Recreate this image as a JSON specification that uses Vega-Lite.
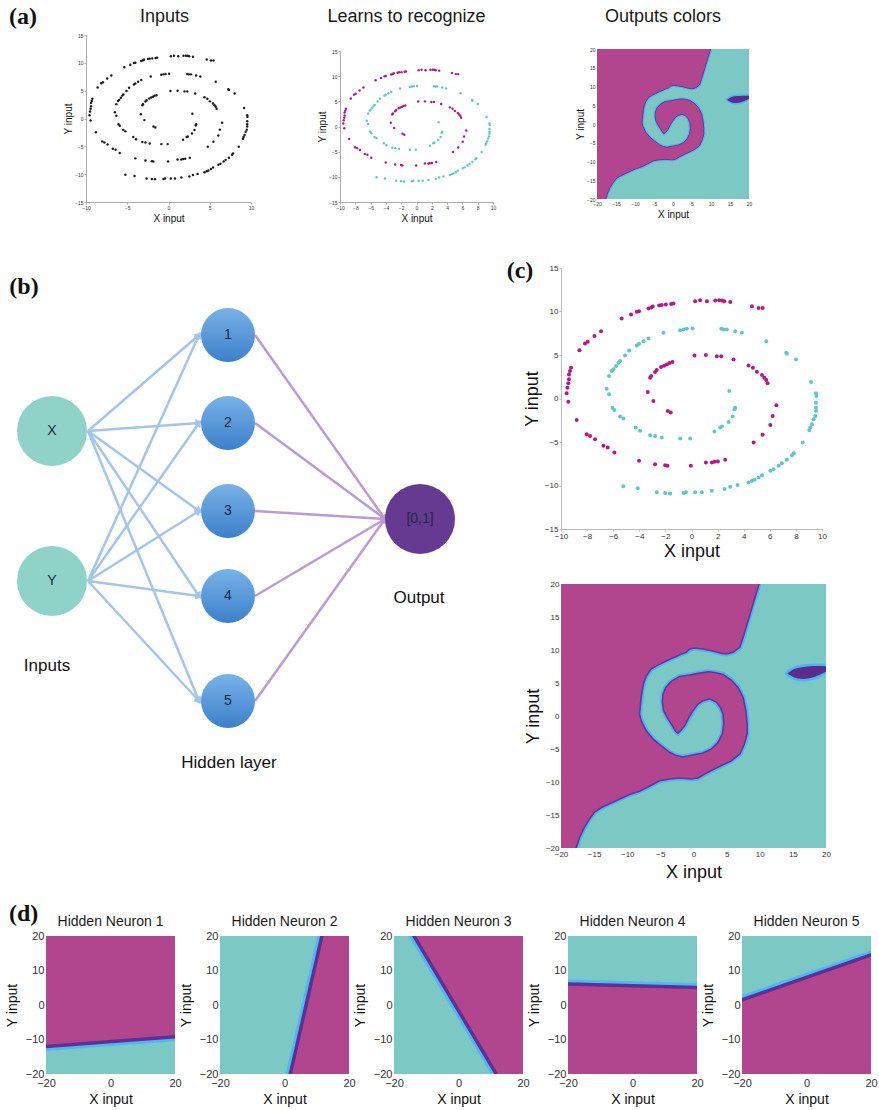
{
"$schema": "https://vega.github.io/schema/vega-lite/v6.json",
"padding": {"left": 5, "top": 5, "right": 4, "bottom": 2},
"config": {
  "view": {"stroke": null},
  "font": "Liberation Sans",
  "axis": {"grid": false, "labelFlush": false, "labelOverlap": false, "titleFontWeight": "normal", "labelColor": "#333", "titleColor": "#111", "labelFont": "Liberation Sans", "titleFont": "Liberation Sans"},
  "title": {"font": "Liberation Sans", "fontWeight": "normal", "color": "#1a1a1a"}
},
"datasets": {
  "spiral": [
    {"x":-5.35,"y":9.19,"c":"m"},{"x":-4.63,"y":9.65,"c":"m"},{"x":-4.19,"y":9.96,"c":"m"},{"x":-4.02,"y":10.03,"c":"m"},{"x":-3.30,"y":10.34,"c":"m"},{"x":-3.09,"y":10.45,"c":"m"},{"x":-2.97,"y":10.57,"c":"m"},{"x":-2.48,"y":10.68,"c":"m"},{"x":-2.28,"y":10.76,"c":"m"},{"x":-1.97,"y":10.80,"c":"m"},{"x":-1.56,"y":10.87,"c":"m"},{"x":-1.38,"y":10.91,"c":"m"},{"x":0.28,"y":11.18,"c":"m"},{"x":0.66,"y":11.29,"c":"m"},{"x":1.18,"y":11.18,"c":"m"},{"x":1.82,"y":11.26,"c":"m"},{"x":2.12,"y":11.29,"c":"m"},{"x":2.33,"y":11.26,"c":"m"},{"x":2.51,"y":11.18,"c":"m"},{"x":2.97,"y":11.10,"c":"m"},{"x":4.63,"y":10.61,"c":"m"},{"x":5.14,"y":10.41,"c":"m"},{"x":5.45,"y":10.41,"c":"m"},
    {"x":-6.93,"y":7.74,"c":"m"},{"x":-7.44,"y":7.17,"c":"m"},{"x":-7.95,"y":6.52,"c":"m"},{"x":-8.16,"y":6.33,"c":"m"},{"x":-8.59,"y":5.56,"c":"m"},{"x":-9.23,"y":3.54,"c":"m"},{"x":-9.31,"y":3.15,"c":"m"},{"x":-9.39,"y":2.77,"c":"m"},{"x":-9.39,"y":2.20,"c":"m"},{"x":-9.44,"y":1.74,"c":"m"},{"x":-9.51,"y":1.24,"c":"m"},{"x":-9.57,"y":0.59,"c":"m"},{"x":-9.44,"y":-0.36,"c":"m"},{"x":-8.80,"y":-2.46,"c":"m"},{"x":-8.03,"y":-4.11,"c":"m"},{"x":-7.77,"y":-4.30,"c":"m"},{"x":-7.39,"y":-4.68,"c":"m"},{"x":-6.75,"y":-5.44,"c":"m"},{"x":-6.42,"y":-5.63,"c":"m"},{"x":-5.91,"y":-6.21,"c":"m"},
    {"x":-4.02,"y":-7.16,"c":"m"},{"x":-2.79,"y":-7.55,"c":"m"},{"x":-2.02,"y":-7.66,"c":"m"},{"x":-1.84,"y":-7.74,"c":"m"},{"x":-0.05,"y":-7.74,"c":"m"},{"x":1.10,"y":-7.35,"c":"m"},{"x":1.56,"y":-7.35,"c":"m"},{"x":1.76,"y":-7.28,"c":"m"},{"x":2.02,"y":-7.24,"c":"m"},{"x":2.58,"y":-7.05,"c":"m"},
    {"x":4.76,"y":-5.06,"c":"m"},{"x":5.45,"y":-4.18,"c":"m"},{"x":6.04,"y":-3.04,"c":"m"},{"x":6.22,"y":-2.00,"c":"m"},{"x":6.50,"y":-0.78,"c":"m"},{"x":5.83,"y":1.74,"c":"m"},{"x":5.73,"y":2.12,"c":"m"},{"x":5.58,"y":2.39,"c":"m"},{"x":5.40,"y":2.70,"c":"m"},{"x":5.01,"y":3.08,"c":"m"},{"x":4.71,"y":3.54,"c":"m"},{"x":4.37,"y":3.80,"c":"m"},{"x":3.22,"y":4.49,"c":"m"},{"x":2.28,"y":4.87,"c":"m"},{"x":1.94,"y":4.87,"c":"m"},{"x":1.10,"y":4.99,"c":"m"},{"x":0.23,"y":4.95,"c":"m"},
    {"x":-1.46,"y":4.19,"c":"m"},{"x":-1.69,"y":4.07,"c":"m"},{"x":-1.89,"y":3.92,"c":"m"},{"x":-2.10,"y":3.77,"c":"m"},{"x":-2.33,"y":3.61,"c":"m"},{"x":-2.66,"y":3.27,"c":"m"},{"x":-2.79,"y":3.04,"c":"m"},{"x":-3.09,"y":2.58,"c":"m"},{"x":-3.17,"y":2.39,"c":"m"},{"x":-3.35,"y":0.75,"c":"m"},{"x":-2.92,"y":-0.29,"c":"m"},{"x":-1.82,"y":-1.43,"c":"m"},{"x":-1.59,"y":-1.62,"c":"m"},
    {"x":2.89,"y":0.86,"c":"c"},{"x":3.35,"y":-1.05,"c":"c"},{"x":3.30,"y":-1.24,"c":"c"},{"x":3.15,"y":-2.08,"c":"c"},{"x":2.84,"y":-2.69,"c":"c"},{"x":2.33,"y":-3.23,"c":"c"},{"x":2.20,"y":-3.34,"c":"c"},{"x":1.76,"y":-3.80,"c":"c"},{"x":-0.10,"y":-4.60,"c":"c"},{"x":-0.87,"y":-4.60,"c":"c"},{"x":-2.28,"y":-4.49,"c":"c"},{"x":-2.79,"y":-4.30,"c":"c"},{"x":-3.17,"y":-4.22,"c":"c"},{"x":-3.94,"y":-3.72,"c":"c"},{"x":-4.27,"y":-3.34,"c":"c"},{"x":-5.22,"y":-2.31,"c":"c"},{"x":-5.47,"y":-2.08,"c":"c"},{"x":-5.91,"y":-1.32,"c":"c"},{"x":-6.06,"y":-1.05,"c":"c"},{"x":-6.32,"y":0.48,"c":"c"},{"x":-6.50,"y":1.13,"c":"c"},{"x":-6.32,"y":2.58,"c":"c"},{"x":-6.11,"y":3.15,"c":"c"},{"x":-5.98,"y":3.35,"c":"c"},{"x":-5.78,"y":3.73,"c":"c"},{"x":-5.60,"y":4.11,"c":"c"},{"x":-5.47,"y":4.30,"c":"c"},{"x":-5.09,"y":4.95,"c":"c"},{"x":-4.78,"y":5.52,"c":"c"},{"x":-4.19,"y":6.10,"c":"c"},{"x":-4.02,"y":6.29,"c":"c"},{"x":-3.68,"y":6.59,"c":"c"},{"x":-3.30,"y":6.90,"c":"c"},{"x":-2.15,"y":7.55,"c":"c"},{"x":-0.87,"y":7.85,"c":"c"},{"x":-0.61,"y":7.93,"c":"c"},{"x":-0.36,"y":8.01,"c":"c"},{"x":0.08,"y":8.05,"c":"c"},{"x":2.28,"y":8.01,"c":"c"},{"x":2.46,"y":7.93,"c":"c"},{"x":2.71,"y":7.93,"c":"c"},{"x":3.35,"y":7.74,"c":"c"},{"x":3.86,"y":7.55,"c":"c"},{"x":5.73,"y":6.59,"c":"c"},{"x":7.26,"y":5.26,"c":"c"},{"x":7.31,"y":5.14,"c":"c"},{"x":8.01,"y":4.49,"c":"c"},{"x":9.16,"y":1.89,"c":"c"},{"x":9.54,"y":0.59,"c":"c"},{"x":9.57,"y":0.29,"c":"c"},{"x":9.54,"y":-0.48,"c":"c"},{"x":9.54,"y":-1.05,"c":"c"},{"x":9.54,"y":-1.43,"c":"c"},{"x":9.49,"y":-2.00,"c":"c"},{"x":9.36,"y":-2.39,"c":"c"},{"x":9.23,"y":-2.96,"c":"c"},{"x":9.10,"y":-3.34,"c":"c"},{"x":9.03,"y":-3.65,"c":"c"},{"x":8.52,"y":-5.06,"c":"c"},{"x":7.83,"y":-6.28,"c":"c"},{"x":7.70,"y":-6.51,"c":"c"},{"x":7.31,"y":-7.05,"c":"c"},{"x":6.93,"y":-7.43,"c":"c"},{"x":6.68,"y":-7.74,"c":"c"},{"x":6.29,"y":-8.12,"c":"c"},{"x":6.04,"y":-8.31,"c":"c"},{"x":5.40,"y":-8.81,"c":"c"},{"x":5.14,"y":-9.07,"c":"c"},{"x":4.83,"y":-9.34,"c":"c"},{"x":4.63,"y":-9.46,"c":"c"},{"x":4.37,"y":-9.65,"c":"c"},{"x":3.53,"y":-9.95,"c":"c"},{"x":2.97,"y":-10.14,"c":"c"},{"x":2.53,"y":-10.41,"c":"c"},{"x":1.56,"y":-10.60,"c":"c"},{"x":0.79,"y":-10.79,"c":"c"},{"x":0.28,"y":-10.79,"c":"c"},{"x":-0.43,"y":-10.79,"c":"c"},{"x":-0.61,"y":-10.87,"c":"c"},{"x":-1.64,"y":-10.91,"c":"c"},{"x":-2.02,"y":-10.87,"c":"c"},{"x":-2.66,"y":-10.79,"c":"c"},{"x":-4.12,"y":-10.33,"c":"c"},{"x":-5.22,"y":-10.10,"c":"c"}
  ],
  "bg": [{"x": -20, "x2": 20, "y": -20, "y2": 20}],
  "region": [
    {"p":"main","i":0,"x":-22,"y":22},{"p":"main","i":1,"x":10.5,"y":22},{"p":"main","i":2,"x":9.9,"y":20},{"p":"main","i":3,"x":8.7,"y":16},{"p":"main","i":4,"x":7.48,"y":11.9},{"p":"main","i":5,"x":6.98,"y":10.4},{"p":"main","i":6,"x":5.97,"y":9.65},{"p":"main","i":7,"x":4.96,"y":9.4},{"p":"main","i":8,"x":4.2,"y":9.5},{"p":"main","i":9,"x":2.7,"y":9.9},{"p":"main","i":10,"x":1.43,"y":10.15},{"p":"main","i":11,"x":0.17,"y":10.3},{"p":"main","i":12,"x":-0.58,"y":10.15},{"p":"main","i":13,"x":-1.1,"y":9.65},{"p":"main","i":14,"x":-1.85,"y":9.4},{"p":"main","i":15,"x":-2.6,"y":9.0},{"p":"main","i":16,"x":-3.6,"y":8.6},{"p":"main","i":17,"x":-4.6,"y":8.1},{"p":"main","i":18,"x":-5.6,"y":7.6},{"p":"main","i":19,"x":-6.4,"y":7.1},{"p":"main","i":20,"x":-7.1,"y":6.1},{"p":"main","i":21,"x":-7.5,"y":5.1},{"p":"main","i":22,"x":-7.75,"y":3.85},{"p":"main","i":23,"x":-7.9,"y":2.8},{"p":"main","i":24,"x":-8.05,"y":1.3},{"p":"main","i":25,"x":-8.15,"y":0.3},{"p":"main","i":26,"x":-7.9,"y":-0.7},{"p":"main","i":27,"x":-7.15,"y":-2.2},{"p":"main","i":28,"x":-6.1,"y":-3.5},{"p":"main","i":29,"x":-4.9,"y":-4.5},{"p":"main","i":30,"x":-3.6,"y":-5.5},{"p":"main","i":31,"x":-2.6,"y":-6.0},{"p":"main","i":32,"x":-1.6,"y":-6.2},{"p":"main","i":33,"x":-0.1,"y":-5.9},{"p":"main","i":34,"x":1.43,"y":-5.6},{"p":"main","i":35,"x":2.7,"y":-5.0},{"p":"main","i":36,"x":3.7,"y":-4.0},{"p":"main","i":37,"x":4.36,"y":-2.7},{"p":"main","i":38,"x":4.56,"y":-1.2},{"p":"main","i":39,"x":4.46,"y":0.3},{"p":"main","i":40,"x":4.05,"y":1.3},{"p":"main","i":41,"x":3.45,"y":2.1},{"p":"main","i":42,"x":2.44,"y":2.6},{"p":"main","i":43,"x":1.43,"y":2.3},{"p":"main","i":44,"x":0.67,"y":1.8},{"p":"main","i":45,"x":-0.08,"y":0.8},{"p":"main","i":46,"x":-0.69,"y":-0.2},{"p":"main","i":47,"x":-1.34,"y":-1.5},{"p":"main","i":48,"x":-2.0,"y":-2.3},{"p":"main","i":49,"x":-2.35,"y":-2.6},{"p":"main","i":50,"x":-2.7,"y":-2.3},{"p":"main","i":51,"x":-3.36,"y":-1.2},{"p":"main","i":52,"x":-4.0,"y":-0.2},{"p":"main","i":53,"x":-4.5,"y":0.8},{"p":"main","i":54,"x":-4.7,"y":2.1},{"p":"main","i":55,"x":-4.6,"y":3.3},{"p":"main","i":56,"x":-4.2,"y":4.3},{"p":"main","i":57,"x":-3.36,"y":5.25},{"p":"main","i":58,"x":-2.1,"y":6.0},{"p":"main","i":59,"x":-0.58,"y":6.2},{"p":"main","i":60,"x":0.93,"y":6.5},{"p":"main","i":61,"x":2.2,"y":6.7},{"p":"main","i":62,"x":3.2,"y":6.6},{"p":"main","i":63,"x":4.46,"y":6.3},{"p":"main","i":64,"x":5.7,"y":5.45},{"p":"main","i":65,"x":6.7,"y":4.35},{"p":"main","i":66,"x":7.5,"y":2.8},{"p":"main","i":67,"x":7.9,"y":0.8},{"p":"main","i":68,"x":8.1,"y":-1.2},{"p":"main","i":69,"x":8.1,"y":-2.7},{"p":"main","i":70,"x":7.7,"y":-4.2},{"p":"main","i":71,"x":7.0,"y":-5.75},{"p":"main","i":72,"x":5.7,"y":-6.8},{"p":"main","i":73,"x":4.46,"y":-7.4},{"p":"main","i":74,"x":3.2,"y":-8.0},{"p":"main","i":75,"x":1.7,"y":-8.8},{"p":"main","i":76,"x":0.67,"y":-9.4},{"p":"main","i":77,"x":-0.33,"y":-9.55},{"p":"main","i":78,"x":-2.1,"y":-9.4},{"p":"main","i":79,"x":-3.6,"y":-9.55},{"p":"main","i":80,"x":-5.1,"y":-9.8},{"p":"main","i":81,"x":-6.6,"y":-10.6},{"p":"main","i":82,"x":-8.15,"y":-11.4},{"p":"main","i":83,"x":-9.66,"y":-11.9},{"p":"main","i":84,"x":-11.2,"y":-12.6},{"p":"main","i":85,"x":-12.7,"y":-13.3},{"p":"main","i":86,"x":-13.95,"y":-13.9},{"p":"main","i":87,"x":-14.96,"y":-14.6},{"p":"main","i":88,"x":-15.7,"y":-15.6},{"p":"main","i":89,"x":-16.5,"y":-16.9},{"p":"main","i":90,"x":-17.2,"y":-18.4},{"p":"main","i":91,"x":-17.7,"y":-20},{"p":"main","i":92,"x":-18.0,"y":-22},{"p":"main","i":93,"x":-22,"y":-22},
    {"p":"blob","i":0,"x":14.0,"y":6.45},{"p":"blob","i":1,"x":14.7,"y":7.05},{"p":"blob","i":2,"x":15.6,"y":7.45},{"p":"blob","i":3,"x":16.8,"y":7.65},{"p":"blob","i":4,"x":18.2,"y":7.75},{"p":"blob","i":5,"x":19.5,"y":7.75},{"p":"blob","i":6,"x":20.6,"y":7.6},{"p":"blob","i":7,"x":20.6,"y":6.9},{"p":"blob","i":8,"x":19.6,"y":6.3},{"p":"blob","i":9,"x":18.4,"y":5.75},{"p":"blob","i":10,"x":17.1,"y":5.45},{"p":"blob","i":11,"x":15.7,"y":5.5},{"p":"blob","i":12,"x":14.7,"y":5.9}
  ],
  "neuron": [
    {"n":1,"i":0,"x":-22,"y":-12.14},{"n":1,"i":1,"x":22,"y":-9.06},{"n":1,"i":2,"x":22,"y":22},{"n":1,"i":3,"x":-22,"y":22},
    {"n":2,"i":0,"x":1.31,"y":-22},{"n":2,"i":1,"x":12.09,"y":22},{"n":2,"i":2,"x":22,"y":22},{"n":2,"i":3,"x":22,"y":-22},
    {"n":3,"i":0,"x":-15.08,"y":22},{"n":3,"i":1,"x":12.98,"y":-22},{"n":3,"i":2,"x":22,"y":-22},{"n":3,"i":3,"x":22,"y":22},
    {"n":4,"i":0,"x":-22,"y":6.15},{"n":4,"i":1,"x":22,"y":5.05},{"n":4,"i":2,"x":22,"y":-22},{"n":4,"i":3,"x":-22,"y":-22},
    {"n":5,"i":0,"x":-22,"y":0.85},{"n":5,"i":1,"x":22,"y":15.15},{"n":5,"i":2,"x":22,"y":-22},{"n":5,"i":3,"x":-22,"y":-22}
  ],
  "nodes": [
    {"id":"X","t":"in","x":43,"y":163},{"id":"Y","t":"in","x":43,"y":313},
    {"id":"1","t":"h","x":219,"y":67},{"id":"2","t":"h","x":219,"y":155},{"id":"3","t":"h","x":219,"y":243},{"id":"4","t":"h","x":219,"y":328},{"id":"5","t":"h","x":219,"y":433},
    {"id":"[0,1]","t":"o","x":411,"y":251}
  ],
  "edges": [
    {"k":"in","x":79,"y":163,"x2":190,"y2":67,"a":-40.86},{"k":"in","x":79,"y":163,"x2":190,"y2":155,"a":-4.12},{"k":"in","x":79,"y":163,"x2":190,"y2":243,"a":35.78},{"k":"in","x":79,"y":163,"x2":190,"y2":328,"a":56.07},{"k":"in","x":79,"y":163,"x2":190,"y2":433,"a":67.65},
    {"k":"in","x":79,"y":313,"x2":190,"y2":67,"a":-65.71},{"k":"in","x":79,"y":313,"x2":190,"y2":155,"a":-54.91},{"k":"in","x":79,"y":313,"x2":190,"y2":243,"a":-32.24},{"k":"in","x":79,"y":313,"x2":190,"y2":328,"a":7.70},{"k":"in","x":79,"y":313,"x2":190,"y2":433,"a":47.23},
    {"k":"out","x":246,"y":67,"x2":376,"y2":251,"a":54.76},{"k":"out","x":246,"y":155,"x2":376,"y2":251,"a":36.44},{"k":"out","x":246,"y":243,"x2":376,"y2":251,"a":3.52},{"k":"out","x":246,"y":328,"x2":376,"y2":251,"a":-30.64},{"k":"out","x":246,"y":433,"x2":376,"y2":251,"a":-54.46}
  ],
  "blabels": [
    {"t":"Inputs","x":38,"y":398},{"t":"Hidden layer","x":220,"y":495},{"t":"Output","x":410,"y":330}
  ]
},
"vconcat": [
  {
    "hconcat": [
      {"width": 1, "height": 1, "data": {"values": []}, "mark": "point",
       "title": {"text": "(a)", "anchor": "start", "frame": "group", "font": "Liberation Serif", "fontSize": 24, "fontWeight": "bold", "color": "#111", "offset": 6}},
      {
        "hconcat": [
          {
            "width": 165, "height": 167,
            "title": {"text": "Inputs", "fontSize": 18, "frame": "group", "offset": 7, "dx": -4},
            "data": {"name": "spiral"},
            "mark": {"type": "circle", "size": 6, "color": "#1e1e1e", "opacity": 1},
            "encoding": {
              "x": {"field": "x", "type": "quantitative", "scale": {"domain": [-10, 10]}, "axis": {"title": "X input", "values": [-10, -5, 0, 5, 10], "format": "d", "tickCount": 30, "labelOverlap": false, "labelFontSize": 5, "titleFontSize": 10, "domainColor": "#aaa", "tickColor": "#aaa", "tickSize": 2, "labelPadding": 1, "titlePadding": 3}},
              "y": {"field": "y", "type": "quantitative", "scale": {"domain": [-15, 15]}, "axis": {"title": "Y input", "values": [-15, -10, -5, 0, 5, 10, 15], "format": "d", "tickCount": 30, "labelOverlap": false, "labelFontSize": 5, "titleFontSize": 10, "domainColor": "#aaa", "tickColor": "#aaa", "tickSize": 2, "labelPadding": 1, "titlePadding": 1}}
            }
          },
          {
            "hconcat": [
              {
                "vconcat": [
                  {"width": 153, "height": 1, "data": {"values": []}, "mark": "point",
                   "title": {"text": "Learns to recognize", "fontSize": 18, "frame": "group", "offset": 9.5, "dx": -10}},
                  {
                    "width": 153, "height": 151,
                    "data": {"name": "spiral"},
                    "mark": {"type": "circle", "size": 6, "opacity": 1},
                    "encoding": {
                      "x": {"field": "x", "type": "quantitative", "scale": {"domain": [-10, 10]}, "axis": {"title": "X input", "values": [-10, -8, -6, -4, -2, 0, 2, 4, 6, 8, 10], "format": "d", "tickCount": 30, "labelOverlap": false, "labelFontSize": 5, "titleFontSize": 10, "domainColor": "#aaa", "tickColor": "#aaa", "tickSize": 2, "labelPadding": 1, "titlePadding": 3}},
                      "y": {"field": "y", "type": "quantitative", "scale": {"domain": [-15, 15]}, "axis": {"title": "Y input", "values": [-15, -10, -5, 0, 5, 10, 15], "format": "d", "tickCount": 30, "labelOverlap": false, "labelFontSize": 5, "titleFontSize": 10, "domainColor": "#aaa", "tickColor": "#aaa", "tickSize": 2, "labelPadding": 1, "titlePadding": 1}},
                      "color": {"field": "c", "type": "nominal", "scale": {"domain": ["m", "c"], "range": ["#b3198a", "#5fc6c9"]}, "legend": null}
                    }
                  }
                ],
                "spacing": 15,
                "bounds": "flush"
              },
              {
                "vconcat": [
                  {"width": 152, "height": 1, "data": {"values": []}, "mark": "point",
                   "title": {"text": "Outputs colors", "fontSize": 18, "frame": "group", "offset": 9.5, "dx": -10}},
                  {
                    "width": 152, "height": 150,
                    "layer": [
                      {"data": {"name": "bg"}, "mark": {"type": "rect", "color": "#7bc8c4"},
                       "encoding": {
                         "x": {"field": "x", "type": "quantitative", "scale": {"domain": [-20, 20]}, "axis": {"title": "X input", "values": [-20, -15, -10, -5, 0, 5, 10, 15, 20], "format": "d", "tickCount": 30, "labelOverlap": false, "labelFontSize": 5, "titleFontSize": 10, "domain": false, "ticks": false, "labelPadding": 2, "titlePadding": 3}},
                         "x2": {"field": "x2"},
                         "y": {"field": "y", "type": "quantitative", "scale": {"domain": [-20, 20]}, "axis": {"title": "Y input", "values": [-20, -15, -10, -5, 0, 5, 10, 15, 20], "format": "d", "tickCount": 30, "labelOverlap": false, "labelFontSize": 5, "titleFontSize": 10, "domain": false, "ticks": false, "labelPadding": 2, "titlePadding": 1}},
                         "y2": {"field": "y2"}
                       }},
                      {"data": {"name": "region"}, "transform": [{"filter": "datum.p == 'main'"}], "mark": {"type": "line", "stroke": "#4db6f0", "strokeWidth": 3, "clip": true},
                       "encoding": {"x": {"field": "x", "type": "quantitative", "scale": {"domain": [-20, 20]}}, "y": {"field": "y", "type": "quantitative", "scale": {"domain": [-20, 20]}}, "order": {"field": "i"}}},
                      {"data": {"name": "region"}, "transform": [{"filter": "datum.p == 'main'"}], "mark": {"type": "line", "fill": "#b1468f", "stroke": "#67349b", "strokeWidth": 1, "clip": true},
                       "encoding": {"x": {"field": "x", "type": "quantitative", "scale": {"domain": [-20, 20]}}, "y": {"field": "y", "type": "quantitative", "scale": {"domain": [-20, 20]}}, "order": {"field": "i"}}},
                      {"data": {"name": "region"}, "transform": [{"filter": "datum.p == 'blob'"}], "mark": {"type": "line", "fill": "#5b2c8c", "stroke": "#4db6f0", "strokeWidth": 1.5, "clip": true, "interpolate": "cardinal-closed"},
                       "encoding": {"x": {"field": "x", "type": "quantitative", "scale": {"domain": [-20, 20]}}, "y": {"field": "y", "type": "quantitative", "scale": {"domain": [-20, 20]}}, "order": {"field": "i"}}}
                    ]
                  }
                ],
                "spacing": 13,
                "bounds": "flush"
              }
            ],
            "spacing": 79
          }
        ],
        "spacing": 63
      }
    ],
    "spacing": 76,
    "bounds": "flush"
  },
  {
    "vconcat": [
      {
        "hconcat": [
          {
            "width": 480, "height": 515,
            "layer": [
              {"data": {"name": "edges"}, "transform": [{"filter": "datum.k == 'in'"}], "mark": {"type": "rule", "strokeWidth": 2.5, "color": "#a4c5e9"},
               "encoding": {
                 "x": {"field": "x", "type": "quantitative", "scale": {"domain": [0, 480]}, "axis": null},
                 "y": {"field": "y", "type": "quantitative", "scale": {"domain": [0, 515], "reverse": true}, "axis": null},
                 "x2": {"field": "x2"}, "y2": {"field": "y2"}
               }},
              {"data": {"name": "edges"}, "transform": [{"filter": "datum.k == 'out'"}], "mark": {"type": "rule", "strokeWidth": 2.5, "color": "#b99bd5"},
               "encoding": {
                 "x": {"field": "x", "type": "quantitative", "scale": {"domain": [0, 480]}, "axis": null},
                 "y": {"field": "y", "type": "quantitative", "scale": {"domain": [0, 515], "reverse": true}, "axis": null},
                 "x2": {"field": "x2"}, "y2": {"field": "y2"}
               }},
              {"data": {"name": "edges"}, "transform": [{"filter": "datum.k == 'in'"}], "mark": {"type": "point", "shape": "triangle-right", "filled": true, "size": 70, "opacity": 1, "color": "#a4c5e9"},
               "encoding": {
                 "x": {"field": "x2", "type": "quantitative", "scale": {"domain": [0, 480]}, "axis": null},
                 "y": {"field": "y2", "type": "quantitative", "scale": {"domain": [0, 515], "reverse": true}, "axis": null},
                 "angle": {"field": "a", "type": "quantitative", "scale": null}
               }},
              {"data": {"name": "edges"}, "transform": [{"filter": "datum.k == 'out'"}], "mark": {"type": "point", "shape": "triangle-right", "filled": true, "size": 70, "opacity": 1, "color": "#b99bd5"},
               "encoding": {
                 "x": {"field": "x2", "type": "quantitative", "scale": {"domain": [0, 480]}, "axis": null},
                 "y": {"field": "y2", "type": "quantitative", "scale": {"domain": [0, 515], "reverse": true}, "axis": null},
                 "angle": {"field": "a", "type": "quantitative", "scale": null}
               }},
              {"data": {"name": "nodes"}, "transform": [{"filter": "datum.t == 'in'"}], "mark": {"type": "point", "shape": "circle", "filled": true, "size": 4900, "fill": "#8fd3c8", "opacity": 1},
               "encoding": {"x": {"field": "x", "type": "quantitative", "scale": {"domain": [0, 480]}, "axis": null}, "y": {"field": "y", "type": "quantitative", "scale": {"domain": [0, 515], "reverse": true}, "axis": null}}},
              {"data": {"name": "nodes"}, "transform": [{"filter": "datum.t == 'h'"}], "mark": {"type": "point", "shape": "circle", "filled": true, "size": 2916, "opacity": 1, "fill": {"gradient": "linear", "x1": 0, "y1": 0, "x2": 0, "y2": 1, "stops": [{"offset": 0, "color": "#78b3e8"}, {"offset": 1, "color": "#3d7fca"}]}},
               "encoding": {"x": {"field": "x", "type": "quantitative", "scale": {"domain": [0, 480]}, "axis": null}, "y": {"field": "y", "type": "quantitative", "scale": {"domain": [0, 515], "reverse": true}, "axis": null}}},
              {"data": {"name": "nodes"}, "transform": [{"filter": "datum.t == 'o'"}], "mark": {"type": "point", "shape": "circle", "filled": true, "size": 4900, "fill": "#663a90", "opacity": 1},
               "encoding": {"x": {"field": "x", "type": "quantitative", "scale": {"domain": [0, 480]}, "axis": null}, "y": {"field": "y", "type": "quantitative", "scale": {"domain": [0, 515], "reverse": true}, "axis": null}}},
              {"data": {"name": "nodes"}, "mark": {"type": "text", "fontSize": 14, "color": "#1c2a42", "font": "Liberation Sans"},
               "encoding": {"x": {"field": "x", "type": "quantitative", "scale": {"domain": [0, 480]}, "axis": null}, "y": {"field": "y", "type": "quantitative", "scale": {"domain": [0, 515], "reverse": true}, "axis": null}, "text": {"field": "id"}}},
              {"data": {"name": "blabels"}, "mark": {"type": "text", "fontSize": 17, "color": "#111", "font": "Liberation Sans"},
               "encoding": {"x": {"field": "x", "type": "quantitative", "scale": {"domain": [0, 480]}, "axis": null}, "y": {"field": "y", "type": "quantitative", "scale": {"domain": [0, 515], "reverse": true}, "axis": null}, "text": {"field": "t"}}},
              {"data": {"values": [{"t": "(b)", "x": 15, "y": 19}]}, "mark": {"type": "text", "font": "Liberation Serif", "fontSize": 24, "fontWeight": "bold", "color": "#111"},
               "encoding": {"x": {"field": "x", "type": "quantitative", "scale": {"domain": [0, 480]}, "axis": null}, "y": {"field": "y", "type": "quantitative", "scale": {"domain": [0, 515], "reverse": true}, "axis": null}, "text": {"field": "t"}}}
            ]
          },
          {
            "vconcat": [
              {
                "width": 261, "height": 261,
                "layer": [
                  {"data": {"name": "spiral"}, "mark": {"type": "circle", "size": 16, "opacity": 1},
                   "encoding": {
                     "x": {"field": "x", "type": "quantitative", "scale": {"domain": [-10, 10]}, "axis": {"title": "X input", "values": [-10, -8, -6, -4, -2, 0, 2, 4, 6, 8, 10], "format": "d", "tickCount": 30, "labelOverlap": false, "labelFontSize": 8, "titleFontSize": 18, "domainColor": "#bbb", "tickColor": "#bbb", "tickSize": 2, "labelPadding": 1, "titlePadding": 2}},
                     "y": {"field": "y", "type": "quantitative", "scale": {"domain": [-15, 15]}, "axis": {"title": "Y input", "values": [-15, -10, -5, 0, 5, 10, 15], "format": "d", "tickCount": 30, "labelOverlap": false, "labelFontSize": 8, "titleFontSize": 18, "domainColor": "#bbb", "tickColor": "#bbb", "tickSize": 2, "labelPadding": 1, "titlePadding": 3}},
                     "color": {"field": "c", "type": "nominal", "scale": {"domain": ["m", "c"], "range": ["#b3198a", "#5fc6c9"]}, "legend": null}
                   }},
                  {"data": {"values": [{"t": "(c)", "x": -13.14, "y": 14.66}]}, "mark": {"type": "text", "font": "Liberation Serif", "fontSize": 24, "fontWeight": "bold", "color": "#111"},
                   "encoding": {"x": {"field": "x", "type": "quantitative", "scale": {"domain": [-10, 10]}}, "y": {"field": "y", "type": "quantitative", "scale": {"domain": [-15, 15]}}, "text": {"field": "t"}}}
                ]
              },
              {
                "width": 265, "height": 264,
                "layer": [
                  {"data": {"name": "bg"}, "mark": {"type": "rect", "color": "#7bc8c4"},
                   "encoding": {
                     "x": {"field": "x", "type": "quantitative", "scale": {"domain": [-20, 20]}, "axis": {"title": "X input", "values": [-20, -15, -10, -5, 0, 5, 10, 15, 20], "format": "d", "tickCount": 30, "labelOverlap": false, "labelFontSize": 8, "titleFontSize": 18, "domain": false, "ticks": false, "labelPadding": 2, "titlePadding": 5}},
                     "x2": {"field": "x2"},
                     "y": {"field": "y", "type": "quantitative", "scale": {"domain": [-20, 20]}, "axis": {"title": "Y input", "values": [-20, -15, -10, -5, 0, 5, 10, 15, 20], "format": "d", "tickCount": 30, "labelOverlap": false, "labelFontSize": 8, "titleFontSize": 18, "domain": false, "ticks": false, "labelPadding": 2, "titlePadding": 3}},
                     "y2": {"field": "y2"}
                   }},
                  {"data": {"name": "region"}, "transform": [{"filter": "datum.p == 'main'"}], "mark": {"type": "line", "stroke": "#4db6f0", "strokeWidth": 5, "clip": true},
                   "encoding": {"x": {"field": "x", "type": "quantitative", "scale": {"domain": [-20, 20]}}, "y": {"field": "y", "type": "quantitative", "scale": {"domain": [-20, 20]}}, "order": {"field": "i"}}},
                  {"data": {"name": "region"}, "transform": [{"filter": "datum.p == 'main'"}], "mark": {"type": "line", "fill": "#b1468f", "stroke": "#67349b", "strokeWidth": 1.6, "clip": true},
                   "encoding": {"x": {"field": "x", "type": "quantitative", "scale": {"domain": [-20, 20]}}, "y": {"field": "y", "type": "quantitative", "scale": {"domain": [-20, 20]}}, "order": {"field": "i"}}},
                  {"data": {"name": "region"}, "transform": [{"filter": "datum.p == 'blob'"}], "mark": {"type": "line", "fill": "#5b2c8c", "stroke": "#4db6f0", "strokeWidth": 2.5, "clip": true, "interpolate": "cardinal-closed"},
                   "encoding": {"x": {"field": "x", "type": "quantitative", "scale": {"domain": [-20, 20]}}, "y": {"field": "y", "type": "quantitative", "scale": {"domain": [-20, 20]}}, "order": {"field": "i"}}}
                ]
              }
            ],
            "spacing": 55,
            "bounds": "flush"
          }
        ],
        "spacing": 17
      },
      {
        "hconcat": [
          {"width": 1, "height": 1, "data": {"values": []}, "mark": "point",
           "title": {"text": "(d)", "anchor": "start", "frame": "group", "font": "Liberation Serif", "fontSize": 24, "fontWeight": "bold", "color": "#111", "offset": 10}},
          {
            "hconcat": [
              {
                "width": 129, "height": 138,
                "title": {"text": "Hidden Neuron 1", "fontSize": 14, "frame": "group", "offset": 1},
                "layer": [
                  {"data": {"name": "bg"}, "mark": {"type": "rect", "color": "#7bc8c4"},
                   "encoding": {
                     "x": {"field": "x", "type": "quantitative", "scale": {"domain": [-20, 20]}, "axis": {"title": "X input", "values": [-20, 0, 20], "format": "d", "tickCount": 30, "labelOverlap": false, "labelFontSize": 11, "titleFontSize": 14, "domain": false, "ticks": false, "labelPadding": 3, "titlePadding": 4}},
                     "x2": {"field": "x2"},
                     "y": {"field": "y", "type": "quantitative", "scale": {"domain": [-20, 20]}, "axis": {"title": "Y input", "values": [-20, -10, 0, 10, 20], "format": "d", "tickCount": 30, "labelOverlap": false, "labelFontSize": 11, "titleFontSize": 14, "domain": false, "ticks": false, "labelPadding": 2, "titlePadding": 6}},
                     "y2": {"field": "y2"}
                   }},
                  {"data": {"name": "neuron"}, "transform": [{"filter": "datum.n == 1"}], "mark": {"type": "line", "stroke": "#4fb8f2", "strokeWidth": 9, "clip": true},
                   "encoding": {"x": {"field": "x", "type": "quantitative", "scale": {"domain": [-20, 20]}}, "y": {"field": "y", "type": "quantitative", "scale": {"domain": [-20, 20]}}, "order": {"field": "i"}}},
                  {"data": {"name": "neuron"}, "transform": [{"filter": "datum.n == 1"}], "mark": {"type": "line", "fill": "#b1468f", "stroke": "#5e2f95", "strokeWidth": 3.5, "clip": true},
                   "encoding": {"x": {"field": "x", "type": "quantitative", "scale": {"domain": [-20, 20]}}, "y": {"field": "y", "type": "quantitative", "scale": {"domain": [-20, 20]}}, "order": {"field": "i"}}}
                ]
              },
              {
                "width": 129, "height": 138,
                "title": {"text": "Hidden Neuron 2", "fontSize": 14, "frame": "group", "offset": 1},
                "layer": [
                  {"data": {"name": "bg"}, "mark": {"type": "rect", "color": "#7bc8c4"},
                   "encoding": {
                     "x": {"field": "x", "type": "quantitative", "scale": {"domain": [-20, 20]}, "axis": {"title": "X input", "values": [-20, 0, 20], "format": "d", "tickCount": 30, "labelOverlap": false, "labelFontSize": 11, "titleFontSize": 14, "domain": false, "ticks": false, "labelPadding": 3, "titlePadding": 4}},
                     "x2": {"field": "x2"},
                     "y": {"field": "y", "type": "quantitative", "scale": {"domain": [-20, 20]}, "axis": {"title": "Y input", "values": [-20, -10, 0, 10, 20], "format": "d", "tickCount": 30, "labelOverlap": false, "labelFontSize": 11, "titleFontSize": 14, "domain": false, "ticks": false, "labelPadding": 2, "titlePadding": 6}},
                     "y2": {"field": "y2"}
                   }},
                  {"data": {"name": "neuron"}, "transform": [{"filter": "datum.n == 2"}], "mark": {"type": "line", "stroke": "#4fb8f2", "strokeWidth": 9, "clip": true},
                   "encoding": {"x": {"field": "x", "type": "quantitative", "scale": {"domain": [-20, 20]}}, "y": {"field": "y", "type": "quantitative", "scale": {"domain": [-20, 20]}}, "order": {"field": "i"}}},
                  {"data": {"name": "neuron"}, "transform": [{"filter": "datum.n == 2"}], "mark": {"type": "line", "fill": "#b1468f", "stroke": "#5e2f95", "strokeWidth": 3.5, "clip": true},
                   "encoding": {"x": {"field": "x", "type": "quantitative", "scale": {"domain": [-20, 20]}}, "y": {"field": "y", "type": "quantitative", "scale": {"domain": [-20, 20]}}, "order": {"field": "i"}}}
                ]
              },
              {
                "width": 129, "height": 138,
                "title": {"text": "Hidden Neuron 3", "fontSize": 14, "frame": "group", "offset": 1},
                "layer": [
                  {"data": {"name": "bg"}, "mark": {"type": "rect", "color": "#7bc8c4"},
                   "encoding": {
                     "x": {"field": "x", "type": "quantitative", "scale": {"domain": [-20, 20]}, "axis": {"title": "X input", "values": [-20, 0, 20], "format": "d", "tickCount": 30, "labelOverlap": false, "labelFontSize": 11, "titleFontSize": 14, "domain": false, "ticks": false, "labelPadding": 3, "titlePadding": 4}},
                     "x2": {"field": "x2"},
                     "y": {"field": "y", "type": "quantitative", "scale": {"domain": [-20, 20]}, "axis": {"title": "Y input", "values": [-20, -10, 0, 10, 20], "format": "d", "tickCount": 30, "labelOverlap": false, "labelFontSize": 11, "titleFontSize": 14, "domain": false, "ticks": false, "labelPadding": 2, "titlePadding": 6}},
                     "y2": {"field": "y2"}
                   }},
                  {"data": {"name": "neuron"}, "transform": [{"filter": "datum.n == 3"}], "mark": {"type": "line", "stroke": "#4fb8f2", "strokeWidth": 9, "clip": true},
                   "encoding": {"x": {"field": "x", "type": "quantitative", "scale": {"domain": [-20, 20]}}, "y": {"field": "y", "type": "quantitative", "scale": {"domain": [-20, 20]}}, "order": {"field": "i"}}},
                  {"data": {"name": "neuron"}, "transform": [{"filter": "datum.n == 3"}], "mark": {"type": "line", "fill": "#b1468f", "stroke": "#5e2f95", "strokeWidth": 3.5, "clip": true},
                   "encoding": {"x": {"field": "x", "type": "quantitative", "scale": {"domain": [-20, 20]}}, "y": {"field": "y", "type": "quantitative", "scale": {"domain": [-20, 20]}}, "order": {"field": "i"}}}
                ]
              },
              {
                "width": 129, "height": 138,
                "title": {"text": "Hidden Neuron 4", "fontSize": 14, "frame": "group", "offset": 1},
                "layer": [
                  {"data": {"name": "bg"}, "mark": {"type": "rect", "color": "#7bc8c4"},
                   "encoding": {
                     "x": {"field": "x", "type": "quantitative", "scale": {"domain": [-20, 20]}, "axis": {"title": "X input", "values": [-20, 0, 20], "format": "d", "tickCount": 30, "labelOverlap": false, "labelFontSize": 11, "titleFontSize": 14, "domain": false, "ticks": false, "labelPadding": 3, "titlePadding": 4}},
                     "x2": {"field": "x2"},
                     "y": {"field": "y", "type": "quantitative", "scale": {"domain": [-20, 20]}, "axis": {"title": "Y input", "values": [-20, -10, 0, 10, 20], "format": "d", "tickCount": 30, "labelOverlap": false, "labelFontSize": 11, "titleFontSize": 14, "domain": false, "ticks": false, "labelPadding": 2, "titlePadding": 6}},
                     "y2": {"field": "y2"}
                   }},
                  {"data": {"name": "neuron"}, "transform": [{"filter": "datum.n == 4"}], "mark": {"type": "line", "stroke": "#4fb8f2", "strokeWidth": 9, "clip": true},
                   "encoding": {"x": {"field": "x", "type": "quantitative", "scale": {"domain": [-20, 20]}}, "y": {"field": "y", "type": "quantitative", "scale": {"domain": [-20, 20]}}, "order": {"field": "i"}}},
                  {"data": {"name": "neuron"}, "transform": [{"filter": "datum.n == 4"}], "mark": {"type": "line", "fill": "#b1468f", "stroke": "#5e2f95", "strokeWidth": 3.5, "clip": true},
                   "encoding": {"x": {"field": "x", "type": "quantitative", "scale": {"domain": [-20, 20]}}, "y": {"field": "y", "type": "quantitative", "scale": {"domain": [-20, 20]}}, "order": {"field": "i"}}}
                ]
              },
              {
                "width": 129, "height": 138,
                "title": {"text": "Hidden Neuron 5", "fontSize": 14, "frame": "group", "offset": 1},
                "layer": [
                  {"data": {"name": "bg"}, "mark": {"type": "rect", "color": "#7bc8c4"},
                   "encoding": {
                     "x": {"field": "x", "type": "quantitative", "scale": {"domain": [-20, 20]}, "axis": {"title": "X input", "values": [-20, 0, 20], "format": "d", "tickCount": 30, "labelOverlap": false, "labelFontSize": 11, "titleFontSize": 14, "domain": false, "ticks": false, "labelPadding": 3, "titlePadding": 4}},
                     "x2": {"field": "x2"},
                     "y": {"field": "y", "type": "quantitative", "scale": {"domain": [-20, 20]}, "axis": {"title": "Y input", "values": [-20, -10, 0, 10, 20], "format": "d", "tickCount": 30, "labelOverlap": false, "labelFontSize": 11, "titleFontSize": 14, "domain": false, "ticks": false, "labelPadding": 2, "titlePadding": 6}},
                     "y2": {"field": "y2"}
                   }},
                  {"data": {"name": "neuron"}, "transform": [{"filter": "datum.n == 5"}], "mark": {"type": "line", "stroke": "#4fb8f2", "strokeWidth": 9, "clip": true},
                   "encoding": {"x": {"field": "x", "type": "quantitative", "scale": {"domain": [-20, 20]}}, "y": {"field": "y", "type": "quantitative", "scale": {"domain": [-20, 20]}}, "order": {"field": "i"}}},
                  {"data": {"name": "neuron"}, "transform": [{"filter": "datum.n == 5"}], "mark": {"type": "line", "fill": "#b1468f", "stroke": "#5e2f95", "strokeWidth": 3.5, "clip": true},
                   "encoding": {"x": {"field": "x", "type": "quantitative", "scale": {"domain": [-20, 20]}}, "y": {"field": "y", "type": "quantitative", "scale": {"domain": [-20, 20]}}, "order": {"field": "i"}}}
                ]
              }
            ],
            "spacing": 45,
            "bounds": "flush"
          }
        ],
        "spacing": 36,
        "bounds": "flush"
      }
    ],
    "spacing": 21
  }
],
"spacing": 35
}
